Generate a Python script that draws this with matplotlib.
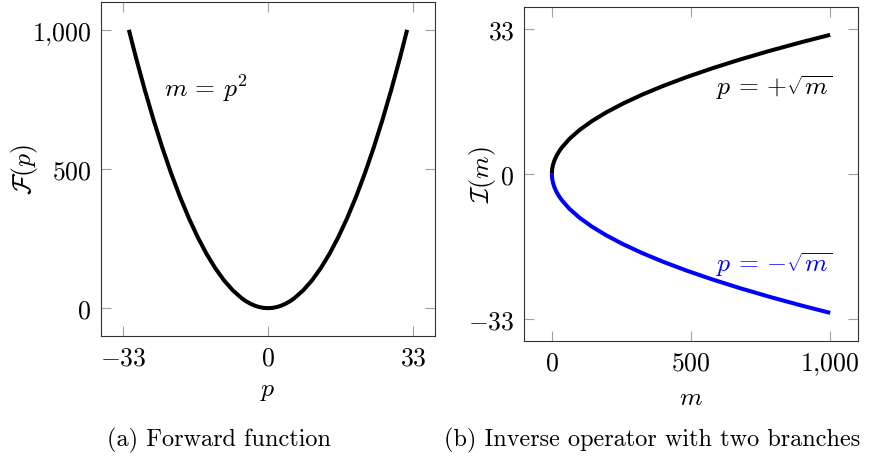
import numpy as np
import matplotlib
matplotlib.use('Agg')
from matplotlib import pyplot as plt
from matplotlib.ticker import FixedLocator, FixedFormatter

plt.rcParams['font.family'] = 'cmr10'
plt.rcParams['mathtext.fontset'] = 'cm'
plt.rcParams['axes.formatter.use_mathtext'] = True

# Samples (p >= 0 half, mirrored for p < 0)
p_half = [0, 1, 2, 3, 4, 5, 6, 8, 10, 12, 14, 16, 18, 20, 22, 24, 26, 28, 30, 31.62]
m_half = [0, 1, 4, 9, 16, 25, 36, 64, 100, 144, 196, 256, 324, 400, 484, 576, 676, 784, 900, 1000]

left_xticks = [-33, 0, 33]
left_xlabels = [r'$-33$', r'$0$', r'$33$']
left_yticks = [0, 500, 1000]
left_ylabels = [r'$0$', r'$500$', r'$1{,}000$']

right_xticks = [0, 500, 1000]
right_xlabels = [r'$0$', r'$500$', r'$1{,}000$']
right_yticks = [-33, 0, 33]
right_ylabels = [r'$-33$', r'$0$', r'$33$']

p_full = [-v for v in p_half[::-1]] + p_half[1:]
m_full = m_half[::-1] + m_half[1:]

W, H = 873, 460
fig = plt.figure(figsize=(W / 100, H / 100), dpi=100)

ax1 = fig.add_axes([101 / W, (H - 337) / H, (435 - 101) / W, (337 - 3) / H])
ax2 = fig.add_axes([524 / W, (H - 341.7) / H, (858 - 524) / W, (341.7 - 8) / H])

fs = 18.5


def style(ax):
    for s in ax.spines.values():
        s.set_color('#333333')
        s.set_linewidth(0.8)
    ax.tick_params(direction='in', length=7.5, width=0.8, color='#a0a0a0',
                   top=True, right=True, labelsize=fs, pad=7)


# (a) forward function
ax1.plot(p_full, m_full, color='black', lw=2.9, solid_capstyle='butt')
ax1.set_xlim(-37.95, 37.95)
ax1.set_ylim(-100, 1100)
ax1.xaxis.set_major_locator(FixedLocator(left_xticks))
ax1.xaxis.set_major_formatter(FixedFormatter(left_xlabels))
ax1.yaxis.set_major_locator(FixedLocator(left_yticks))
ax1.yaxis.set_major_formatter(FixedFormatter(left_ylabels))
ax1.set_xlabel(r'$p$', fontsize=fs, labelpad=6)
ax1.set_ylabel(r'$\mathcal{F}(p)$', fontsize=fs, va='center')
ax1.yaxis.set_label_coords((25 - 101) / 334, 0.5)
ax1.text(-23.7, 795, r'$m\,=\,p^2$', fontsize=fs, ha='left', va='center')
style(ax1)

# (b) inverse operator, two branches
ax2.plot(m_half, p_half, color='black', lw=2.9, solid_capstyle='butt')
ax2.plot(m_half, [-v for v in p_half], color='#0000ff', lw=2.9, solid_capstyle='butt')
ax2.set_xlim(-100, 1100)
ax2.set_ylim(-37.95, 37.95)
ax2.xaxis.set_major_locator(FixedLocator(right_xticks))
ax2.xaxis.set_major_formatter(FixedFormatter(right_xlabels))
ax2.yaxis.set_major_locator(FixedLocator(right_yticks))
ax2.yaxis.set_major_formatter(FixedFormatter(right_ylabels))
ax2.set_xlabel(r'$m$', fontsize=fs, labelpad=6)
ax2.set_ylabel(r'$\mathcal{I}(m)$', fontsize=fs, va='center')
ax2.yaxis.set_label_coords((483 - 524) / 334, 0.5)
ax2.text(1008, 19.8, r'$p\,=\,{+}\sqrt{m}$', fontsize=fs, ha='right', va='center')
ax2.text(1008, -20.4, r'$p\,=\,{-}\sqrt{m}$', fontsize=fs, ha='right', va='center',
         color='#0000ff')
style(ax2)

# sub-captions
fig.text(219 / W, 1 - 440 / H, '(a) Forward function', fontsize=17.5,
         ha='center', va='center')
fig.text(652 / W, 1 - 440 / H, '(b) Inverse operator with two branches',
         fontsize=17.5, ha='center', va='center')

fig.savefig('out.png', dpi=100)
